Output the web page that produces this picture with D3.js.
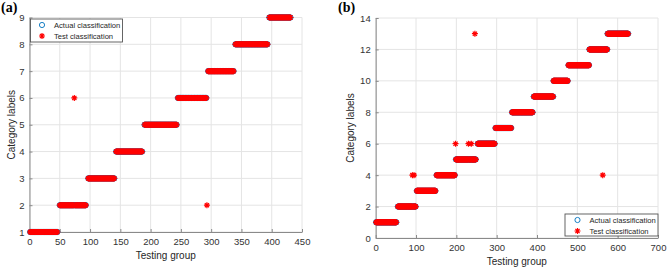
<!DOCTYPE html>
<html>
<head>
<meta charset="utf-8">
<script src="https://cdn.jsdelivr.net/npm/d3@7"></script>
<style>
  body { margin: 0; background: #fff; }
  svg { font-family: "Liberation Sans", Arial, sans-serif; }
  .tick text { fill: #333; font-size: 9.5px; }
  .axis-label { fill: #262626; font-size: 10px; text-anchor: middle; }
  .panel-label { font-family: "Liberation Serif", "Times New Roman", serif; font-weight: bold; font-size: 14px; }
  .legend text { fill: #262626; font-size: 7.6px; }
</style>
</head>
<body>
<svg width="669" height="268"></svg>
<script>
// panel (a): consecutive runs of samples per actual class
const classA = [1, 2, 3, 4, 5, 6, 7, 8, 9];
const startA = [1, 50, 97, 143, 190, 245, 295, 340, 396];
const endA   = [46, 93, 140, 186, 243, 292, 337, 393, 431];
// misclassified samples in (a): index and predicted label
const wrongIdxA = [74, 293];
const wrongLabA = [6, 2];
const xTicksA = [0, 50, 100, 150, 200, 250, 300, 350, 400, 450];
const yTicksA = [1, 2, 3, 4, 5, 6, 7, 8, 9];

// panel (b)
const classB = [1, 2, 3, 4, 5, 6, 7, 8, 9, 10, 11, 12, 13];
const startB = [1, 55, 102, 151, 199, 253, 297, 338, 392, 441, 478, 530, 575];
const endB   = [51, 99, 148, 196, 248, 295, 336, 389, 440, 476, 529, 574, 626];
const wrongIdxB = [91, 95, 198, 230, 237, 246, 563];
const wrongLabB = [4, 4, 6, 6, 6, 13, 4];
const xTicksB = [0, 100, 200, 300, 400, 500, 600, 700];
const yTicksB = [0, 2, 4, 6, 8, 10, 12, 14];

const svg = d3.select('svg');
const blue = '#0072bd';
const red = '#ff0000';

// matlab style '*' marker
const starPath = (r) => {
  const d = r * 0.7;
  return `M${-r},0L${r},0M0,${-r}L0,${r}M${-d},${-d}L${d},${d}M${-d},${d}L${d},${-d}`;
};

const buildSamples = (classes, starts, ends, wrongIdx, wrongLab) => {
  const rows = [];
  classes.forEach((c, k) => {
    for (let i = starts[k]; i <= ends[k]; i++) rows.push({ i, actual: c, test: c });
  });
  wrongIdx.forEach((idx, k) => {
    const row = rows.find(r => r.i === idx);
    if (row) row.test = wrongLab[k];
    else rows.push({ i: idx, actual: null, test: wrongLab[k] });
  });
  return rows;
};

const drawPanel = (opt) => {
  const { left, right, top, bottom, xDomain, yDomain, xTicks, yTicks, rows } = opt;

  const xScale = d3.scaleLinear().domain(xDomain).range([left, right]);
  const yScale = d3.scaleLinear().domain(yDomain).range([bottom, top]);

  const g = svg.append('g');

  // grid
  g.append('g').selectAll('line').data(xTicks)
    .enter().append('line')
    .attr('x1', d => xScale(d)).attr('x2', d => xScale(d))
    .attr('y1', top).attr('y2', bottom)
    .attr('stroke', '#e4e4e4').attr('stroke-width', 1);
  g.append('g').selectAll('line').data(yTicks)
    .enter().append('line')
    .attr('y1', d => yScale(d)).attr('y2', d => yScale(d))
    .attr('x1', left).attr('x2', right)
    .attr('stroke', '#e4e4e4').attr('stroke-width', 1);

  // axes, ticks point inward like matlab
  const xAxis = g.append('g')
    .attr('transform', `translate(0, ${bottom})`)
    .call(d3.axisBottom(xScale).tickValues(xTicks).tickSizeInner(-3).tickSizeOuter(0).tickPadding(6));
  const yAxis = g.append('g')
    .attr('transform', `translate(${left}, 0)`)
    .call(d3.axisLeft(yScale).tickValues(yTicks).tickSizeInner(-3).tickSizeOuter(0).tickPadding(5));
  [xAxis, yAxis].forEach(ax => {
    ax.selectAll('.domain').attr('stroke', '#8a8a8a');
    ax.selectAll('.tick line').attr('stroke', '#8a8a8a');
    ax.selectAll('.tick text').attr('font-family', null).attr('font-size', null);
  });

  // actual classification: open circles
  g.append('g').selectAll('circle').data(rows.filter(r => r.actual !== null))
    .enter().append('circle')
    .attr('cx', d => xScale(d.i))
    .attr('cy', d => yScale(d.actual))
    .attr('r', 2.6)
    .attr('fill', 'none')
    .attr('stroke', blue)
    .attr('stroke-width', 0.9);

  // test classification: red stars on top
  g.append('g').selectAll('path').data(rows)
    .enter().append('path')
    .attr('transform', d => `translate(${xScale(d.i)}, ${yScale(d.test)})`)
    .attr('d', starPath(3))
    .attr('fill', 'none')
    .attr('stroke', red)
    .attr('stroke-width', 1.2);

  // axis labels
  g.append('text')
    .attr('class', 'axis-label')
    .attr('x', (left + right) / 2)
    .attr('y', bottom + 27)
    .text('Testing group');
  g.append('text')
    .attr('class', 'axis-label')
    .attr('transform', `translate(${opt.yLabelX}, ${(top + bottom) / 2}) rotate(-90)`)
    .text('Category labels');

  g.append('text')
    .attr('class', 'panel-label')
    .attr('x', opt.tagX).attr('y', 12)
    .text(opt.tag);

  // legend
  const lg = g.append('g').attr('class', 'legend')
    .attr('transform', `translate(${opt.legend.x}, ${opt.legend.y})`);
  lg.append('rect')
    .attr('width', opt.legend.w).attr('height', opt.legend.h)
    .attr('fill', '#fff').attr('stroke', '#555').attr('stroke-width', 0.9);
  lg.append('circle')
    .attr('cx', opt.legend.mx).attr('cy', 6)
    .attr('r', 2.6).attr('fill', 'none').attr('stroke', blue).attr('stroke-width', 0.9);
  lg.append('path')
    .attr('transform', `translate(${opt.legend.mx}, 17)`)
    .attr('d', starPath(3)).attr('fill', 'none').attr('stroke', red).attr('stroke-width', 1.2);
  lg.append('text').attr('x', opt.legend.tx).attr('y', 8.8).attr('fill', '#262626').text('Actual classification');
  lg.append('text').attr('x', opt.legend.tx).attr('y', 19.8).attr('fill', '#262626').text('Test classification');
};

drawPanel({
  left: 29.5, right: 302, top: 17.5, bottom: 232,
  xDomain: [0, 450], yDomain: [1, 9],
  xTicks: xTicksA, yTicks: yTicksA,
  rows: buildSamples(classA, startA, endA, wrongIdxA, wrongLabA),
  yLabelX: 14.5, tag: '(a)', tagX: 1,
  legend: { x: 30.5, y: 19, w: 92, h: 23, mx: 11.5, tx: 23.5 }
});

drawPanel({
  left: 375.7, right: 658, top: 18, bottom: 238,
  xDomain: [0, 700], yDomain: [0, 14],
  xTicks: xTicksB, yTicks: yTicksB,
  rows: buildSamples(classB, startB, endB, wrongIdxB, wrongLabB),
  yLabelX: 354, tag: '(b)', tagX: 338,
  legend: { x: 565, y: 214, w: 93, h: 22, mx: 12.5, tx: 24.5 }
});
</script>
</body>
</html>
